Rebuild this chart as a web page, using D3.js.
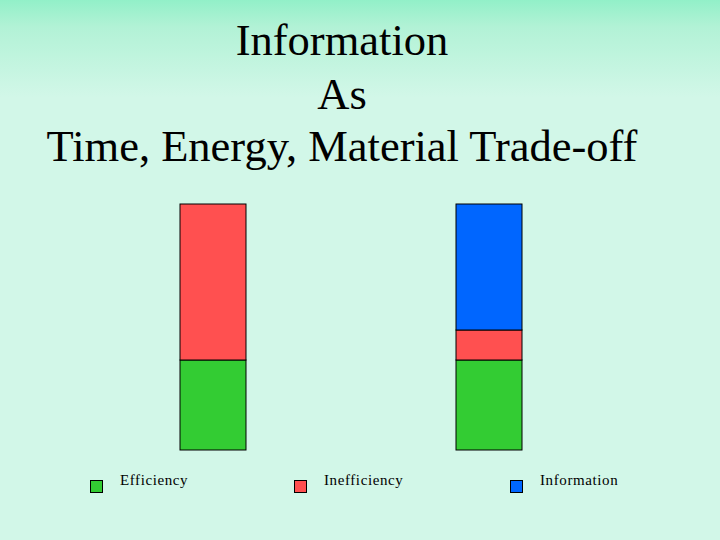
<!DOCTYPE html>
<html><head><meta charset="utf-8">
<script src="https://cdn.jsdelivr.net/npm/d3@7"></script>
<style>body{margin:0;}svg{display:block;}</style>
</head><body>
<script>
const categories = ["Before", "After"];
const seriesNames = ["Efficiency", "Inefficiency", "Information"];
const efficiency = [90, 90];
const inefficiency = [156, 30];
const information = [0, 126];
const colors = ["#33cc33", "#ff5050", "#0066ff"];
const titleLines = ["Information", "As", "Time, Energy, Material Trade-off"];

const W = 720, H = 540;
const svg = d3.select("body").append("svg").attr("width", W).attr("height", H);
const defs = svg.append("defs");
const g = defs.append("linearGradient").attr("id","bg").attr("x1",0).attr("y1",0).attr("x2",0).attr("y2",1);
g.append("stop").attr("offset","0%").attr("stop-color","#92f0c8");
g.append("stop").attr("offset","5%").attr("stop-color","#b2f2d6");
g.append("stop").attr("offset","18%").attr("stop-color","#d2f7e8");
g.append("stop").attr("offset","100%").attr("stop-color","#d2f7e8");
svg.append("rect").attr("width",W).attr("height",H).attr("fill","url(#bg)");

const title = svg.append("text").attr("font-family","Liberation Serif, Times New Roman, serif")
  .attr("font-size",44.5).attr("text-anchor","middle").attr("fill","#000");
[55,109,161].forEach((y,i)=> title.append("tspan").attr("x",342).attr("y",y).text(titleLines[i]));

const x = d3.scaleBand().domain(categories).range([180, 522]).paddingInner(0.7609).paddingOuter(0);
const y = d3.scaleLinear().domain([0, 246]).range([450, 204]);

const data = categories.map((c,i)=>({cat:c, Efficiency:efficiency[i], Inefficiency:inefficiency[i], Information:information[i]}));
const stack = d3.stack().keys(seriesNames)(data);
svg.selectAll("g.s").data(stack).join("g").attr("fill",(d,i)=>colors[i])
  .selectAll("rect").data(d=>d).join("rect")
  .attr("x",d=>x(d.data.cat)).attr("width",x.bandwidth())
  .attr("y",d=>y(d[1])).attr("height",d=>y(d[0])-y(d[1]))
  .attr("stroke","#000").attr("stroke-width",1)
  .style("display",d=>d[1]-d[0]>0?null:"none");

const legX = [90, 294, 510];
seriesNames.forEach((n,i)=>{
  svg.append("rect").attr("x",legX[i]+0.5).attr("y",480.5).attr("width",12).attr("height",12)
    .attr("fill",colors[i]).attr("stroke","#000");
  svg.append("text").attr("x",legX[i]+30).attr("y",485).attr("font-family","Liberation Serif, serif")
    .attr("font-size",15).attr("letter-spacing",0.6).text(n);
});
</script>
</body></html>
